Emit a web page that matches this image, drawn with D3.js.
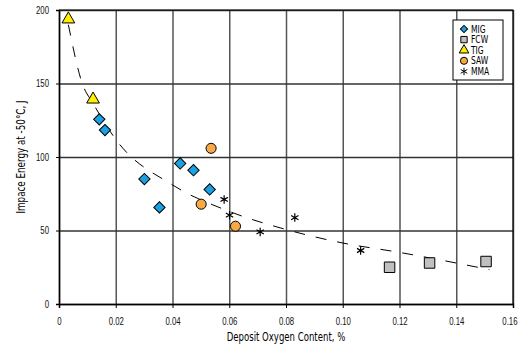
<!DOCTYPE html>
<html>
<head>
<meta charset="utf-8">
<script src="https://cdn.jsdelivr.net/npm/d3@7"></script>
<style>
  body { margin: 0; background: #fff; }
  svg { display: block; font-family: "DejaVu Sans Condensed", "Liberation Sans Narrow", sans-serif; }
</style>
</head>
<body>
<div id="chart"></div>
<script>
// values: [oxygen %, impact energy J]
const migPoints = [[0.0142, 125.6], [0.0162, 118.3], [0.0301, 85], [0.0354, 65.7], [0.0427, 95.6], [0.0474, 91], [0.0531, 77.9]];
const fcwPoints = [[0.1165, 25], [0.1306, 27.9], [0.1505, 28.9]];
const tigPoints = [[0.0033, 193.7], [0.012, 139.2]];
const sawPoints = [[0.0536, 105.9], [0.0501, 67.9], [0.0622, 52.9]];
const mmaPoints = [[0.0582, 71.1], [0.0601, 60.4], [0.0709, 49], [0.0831, 58.8], [0.1063, 36.4]];
// dashed trend curve
const trendPoints = [[0.0033, 190], [0.0082, 150], [0.012, 136.5], [0.02, 112], [0.04, 81], [0.06, 63], [0.08, 50.7], [0.10, 41.5], [0.12, 35.1], [0.1517, 23.4]];
const xTicks = [0, 0.02, 0.04, 0.06, 0.08, 0.10, 0.12, 0.14, 0.16];
const yTicks = [0, 50, 100, 150, 200];

const width = 521;
const height = 347;
const margin = { top: 10, right: 8, bottom: 43, left: 59 };

const series = [
  { name: 'MIG', pts: migPoints, shape: 'diamond', fill: '#1ba1e2' },
  { name: 'FCW', pts: fcwPoints, shape: 'square', fill: '#c0c0c0' },
  { name: 'TIG', pts: tigPoints, shape: 'triangle', fill: '#ffee00' },
  { name: 'SAW', pts: sawPoints, shape: 'circle', fill: '#f7a945' },
  { name: 'MMA', pts: mmaPoints, shape: 'star', fill: 'none' },
];

const symbolTypes = {
  diamond: d3.symbolSquare,
  square: d3.symbolSquare,
  triangle: d3.symbolTriangle,
  circle: d3.symbolCircle,
  star: d3.symbolAsterisk,
};
const symbolSizes = { diamond: 64, square: 110, triangle: 70, circle: 80, star: 50 };

// narrow the glyphs a bit, the original uses a tall condensed face
const squeeze = (sel, f) => sel.each(function () {
  const w = this.getComputedTextLength();
  d3.select(this).attr('textLength', w * f).attr('lengthAdjust', 'spacingAndGlyphs');
});

const x = d3.scaleLinear().domain([0, 0.16]).range([margin.left, width - margin.right]);
const y = d3.scaleLinear().domain([0, 200]).range([height - margin.bottom, margin.top]);

const svg = d3.select('#chart').append('svg')
  .attr('width', width)
  .attr('height', height);

// grid
svg.append('g')
  .attr('transform', `translate(0, ${margin.top})`)
  .call(d3.axisTop(x).tickValues(xTicks).tickSize(-(y(0) - y(200))).tickFormat(''))
  .call((g) => g.select('.domain').remove())
  .call((g) => g.selectAll('line').attr('stroke', '#555').attr('stroke-width', 1.5));

svg.append('g')
  .attr('transform', `translate(${margin.left}, 0)`)
  .call(d3.axisLeft(y).tickValues(yTicks).tickSize(-(x(0.16) - x(0))).tickFormat(''))
  .call((g) => g.select('.domain').remove())
  .call((g) => g.selectAll('line').attr('stroke', '#333').attr('stroke-width', 1.3));

// axes
svg.append('g')
  .attr('transform', `translate(0, ${y(0)})`)
  .call(d3.axisBottom(x).tickValues(xTicks).tickSize(4).tickPadding(10)
    .tickFormat((d) => (d === 0 ? '0' : d3.format('.2f')(d))))
  .call((g) => g.select('.domain').attr('stroke', '#000').attr('stroke-width', 1.5))
  .call((g) => g.selectAll('line').attr('stroke', '#000'))
  .call((g) => g.selectAll('text').attr('font-size', 10).attr('fill', '#111').call(squeeze, 0.78))
  .call((g) => g.selectAll('.tick:last-of-type text').attr('text-anchor', 'end').attr('dx', 4));

svg.append('g')
  .attr('transform', `translate(${margin.left}, 0)`)
  .call(d3.axisLeft(y).tickValues(yTicks).tickSize(3).tickPadding(7))
  .call((g) => g.select('.domain').attr('stroke', '#000').attr('stroke-width', 1.5))
  .call((g) => g.selectAll('line').attr('stroke', '#000'))
  .call((g) => g.selectAll('text').attr('font-size', 10).attr('fill', '#111').call(squeeze, 0.78));

// top/right border
svg.append('path')
  .attr('d', `M${x(0)},${y(200)}H${x(0.16)}V${y(0)}`)
  .attr('fill', 'none')
  .attr('stroke', '#000')
  .attr('stroke-width', 1.2);

// titles
svg.append('text')
  .attr('x', 286)
  .attr('y', 341)
  .attr('text-anchor', 'middle')
  .attr('font-size', 12.5)
  .text('Deposit Oxygen Content, %')
  .call(squeeze, 0.76);

svg.append('text')
  .attr('transform', `translate(25, ${(y(0) + y(200)) / 2}) rotate(-90)`)
  .attr('text-anchor', 'middle')
  .attr('font-size', 12.5)
  .text('Impace Energy at -50°C, J')
  .call(squeeze, 0.78);

// trend line
const line = d3.line().x((d) => x(d[0])).y((d) => y(d[1])).curve(d3.curveMonotoneX);
svg.append('path')
  .datum(trendPoints)
  .attr('d', line)
  .attr('fill', 'none')
  .attr('stroke', '#000')
  .attr('stroke-width', 1)
  .attr('stroke-dasharray', '11,11');

series.forEach((s) => {
  svg.append('g')
    .attr('class', `series-${s.name}`)
    .selectAll('path')
    .data(s.pts)
    .enter().append('path')
    .attr('d', d3.symbol().type(symbolTypes[s.shape]).size(symbolSizes[s.shape]))
    .attr('transform', (d) => `translate(${x(d[0])}, ${y(d[1])})${s.shape === 'diamond' ? ' rotate(45)' : ''}`)
    .attr('fill', s.fill)
    .attr('stroke', '#000')
    .attr('stroke-width', s.shape === 'star' ? 1.2 : 1);
});

// legend
const legend = svg.append('g').attr('transform', 'translate(453, 20)');
legend.append('rect')
  .attr('width', 50)
  .attr('height', 60)
  .attr('fill', '#fff')
  .attr('stroke', '#000');

series.forEach((s, i) => {
  const row = legend.append('g').attr('transform', `translate(0, ${9 + i * 10.6})`);
  row.append('path')
    .attr('d', d3.symbol().type(symbolTypes[s.shape]).size(s.shape === 'diamond' ? 26 : 40)())
    .attr('transform', `translate(11, 0)${s.shape === 'diamond' ? ' rotate(45)' : ''}`)
    .attr('fill', s.fill)
    .attr('stroke', '#000')
    .attr('stroke-width', 1);
  row.append('text')
    .attr('x', 18)
    .attr('dy', '0.35em')
    .attr('font-size', 10.5)
    .text(s.name)
    .call(squeeze, 0.8);
});
</script>
</body>
</html>
